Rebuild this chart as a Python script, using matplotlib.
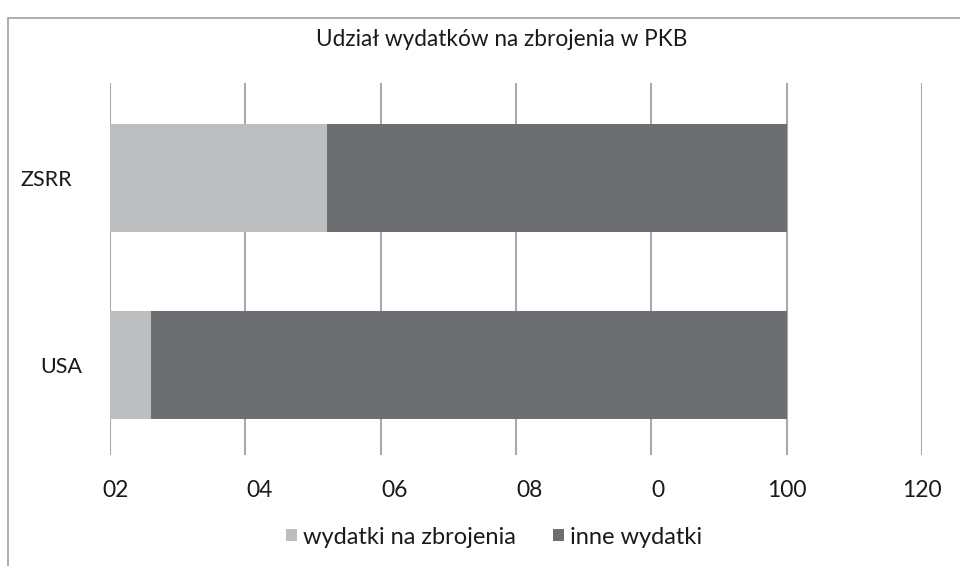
import matplotlib.pyplot as plt
from matplotlib.patches import Rectangle
from matplotlib.transforms import ScaledTranslation

plt.rcParams['font.family'] = ['Lato', 'DejaVu Sans']

countries = ['USA', 'ZSRR']
arms = [6, 32]
other = [94, 68]
x_ticks = [0, 20, 40, 60, 80, 100, 120]
x_labels = ['02', '04', '06', '08', '0', '100', '120']

light = '#bdbec0'
dark = '#6d6e71'
grid = '#a7a9ac'

fig = plt.figure(figsize=(9.6, 5.66), dpi=100)
W, H = 960, 566
# outer frame of the chart
fig.patches.append(Rectangle((8 / W, -0.1), 1.2, 1 - 18 / H + 0.1, transform=fig.transFigure,
                             fill=False, edgecolor='#a0a0a0', linewidth=1.2))

ax = fig.add_axes([110 / W, 1 - 455 / H, (922 - 110) / W, (455 - 83) / H])
ypos = range(len(countries))
ax.barh(ypos, arms, height=0.578, color=light, label='wydatki na zbrojenia', zorder=3)
ax.barh(ypos, other, left=arms, height=0.578, color=dark, label='inne wydatki', zorder=3)

ax.set_xlim(0, 120)
ax.set_ylim(-0.48, 1.508)
ax.set_xticks(x_ticks)
ax.set_xticklabels(x_labels, fontsize=16.5, color='#1a1a1a')
ax.set_yticks(list(ypos))
ax.set_yticklabels(countries, fontsize=15.5, color='#1a1a1a')
ax.tick_params(length=0)
ax.tick_params(axis='x', pad=18)
ax.tick_params(axis='y', pad=20)
ax.xaxis.grid(True, color=grid, linewidth=1.5, zorder=0)
for s in ax.spines.values():
    s.set_visible(False)

# label shifts in pixels, as in the original
x_shift = [6, 14, 14, 14, 7, 0, 0]
for lab, dx in zip(ax.get_xticklabels(), x_shift):
    lab.set_transform(lab.get_transform() + ScaledTranslation(dx / 100, 0, fig.dpi_scale_trans))
y_shift = [0, -10]
for lab, dx in zip(ax.get_yticklabels(), y_shift):
    lab.set_transform(lab.get_transform() + ScaledTranslation(dx / 100, 0, fig.dpi_scale_trans))

fig.text(502 / W, 1 - 40 / H, 'Udział wydatków na zbrojenia w PKB', ha='center', va='center',
         fontsize=16.3, color='#1a1a1a')

leg = fig.legend(loc='center', bbox_to_anchor=(494 / W, 1 - 537 / H), ncol=2, frameon=False,
                 fontsize=17, handlelength=0.45, handleheight=0.45, handletextpad=0.25,
                 columnspacing=1.6)
for t in leg.get_texts():
    t.set_color('#1a1a1a')

fig.savefig('out.png', dpi=100)
